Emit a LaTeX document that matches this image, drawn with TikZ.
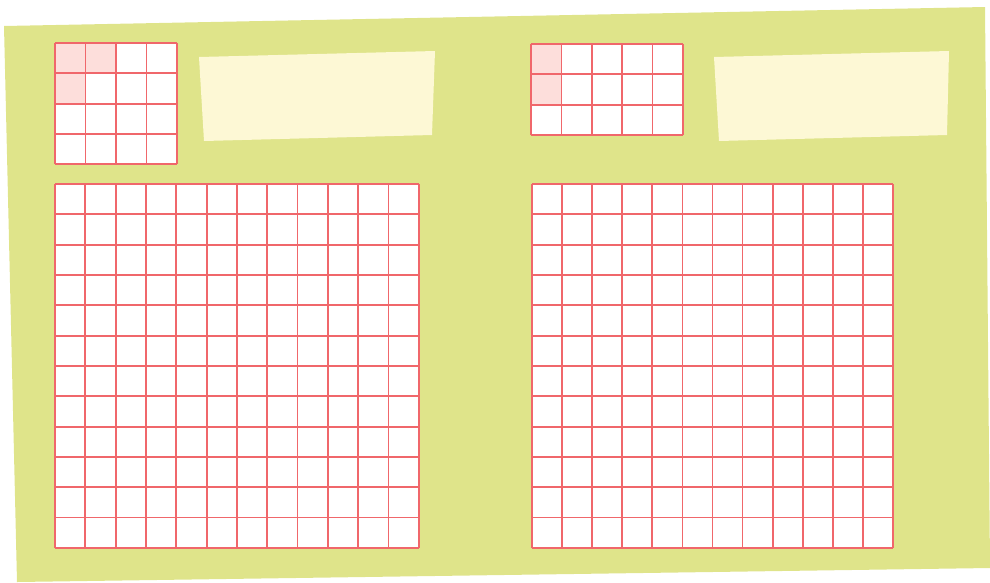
\documentclass[tikz,border=0pt]{standalone}
\usepackage{tikz}
\definecolor{gridred}{HTML}{F0676B}
\definecolor{cellpink}{HTML}{FDDEDB}
\definecolor{boardgreen}{HTML}{DFE48A}
\definecolor{notecream}{HTML}{FDF8D5}
\newcommand{\cellsize}{30.33}

\begin{document}
\begin{tikzpicture}[x=1pt,y=-1pt,line join=round]
\tikzset{gridline/.style={draw=gridred,line width=1.7pt},
  note/.style={fill=notecream}}
\useasboundingbox (0,0) rectangle (990,582);
% board
\fill[boardgreen] (4,26) -- (985,7) -- (990,568) -- (17,582) -- cycle;
% blank notes
\fill[note] (199,57) -- (435,51) -- (432,135) -- (204,141) -- cycle;
\fill[note] (714,57) -- (949,51) -- (947,135) -- (719,141) -- cycle;
% grids: origin x/origin y/columns/rows/cell width
\foreach \ox/\oy/\nc/\nr/\cw in {55/43/4/4/30.5,531/44/5/3/30.4,55/184/12/12/30.33,532/184/12/12/30.08}{
  \fill[white] (\ox,\oy) rectangle ++(\nc*\cw,\nr*\cellsize);
}
% shaded cells
\foreach \ox/\oy/\i/\j in {55/43/0/0,55/43/1/0,55/43/0/1,531/44/0/0,531/44/0/1}{
  \fill[cellpink] (\ox+\i*\cellsize,\oy+\j*\cellsize) rectangle ++(\cellsize,\cellsize);
}
\foreach \ox/\oy/\nc/\nr/\cw in {55/43/4/4/30.5,531/44/5/3/30.4,55/184/12/12/30.33,532/184/12/12/30.08}{
  \foreach \c in {0,...,\nc}{
    \draw[gridline] (\ox+\c*\cw,\oy) -- ++(0,\nr*\cellsize);
  }
  \foreach \r in {0,...,\nr}{
    \draw[gridline] (\ox,\oy+\r*\cellsize) -- ++(\nc*\cw,0);
  }
}
\end{tikzpicture}
\end{document}
